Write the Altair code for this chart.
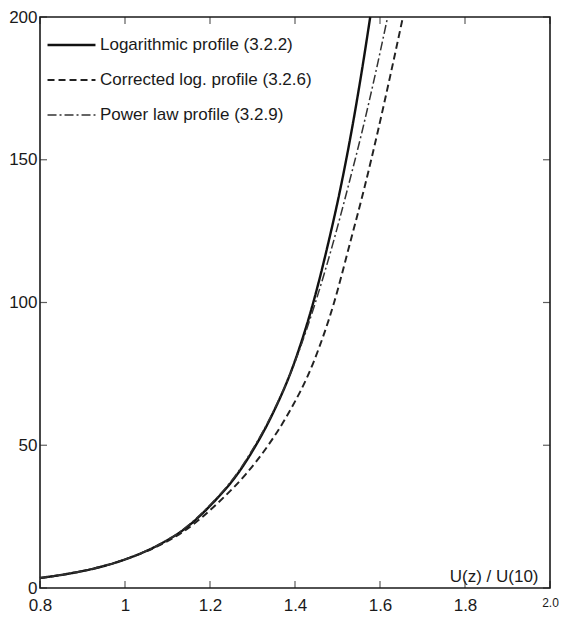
import altair as alt
import pandas as pd

# Heights z (m) and read-off U(z)/U(10) values
z_log = [3.5, 5, 7, 10, 15, 20, 30, 40, 50, 60, 80, 100, 120, 140, 160, 180, 200]
u_log = [0.800, 0.867, 0.932, 1.000, 1.078, 1.134, 1.208, 1.265, 1.308, 1.344, 1.401, 1.443, 1.477, 1.507, 1.533, 1.556, 1.577]

z_cor = [3.5, 5, 7, 10, 15, 20, 30, 40, 50, 60, 80, 100, 120, 140, 160, 180, 200]
u_cor = [0.800, 0.867, 0.932, 1.000, 1.082, 1.140, 1.220, 1.285, 1.337, 1.380, 1.446, 1.492, 1.528, 1.563, 1.595, 1.625, 1.654]

z_pow = [3.5, 5, 7, 10, 15, 20, 30, 40, 50, 60, 80, 100, 120, 140, 160, 180, 200]
u_pow = [0.800, 0.866, 0.931, 1.000, 1.077, 1.132, 1.206, 1.263, 1.306, 1.343, 1.402, 1.448, 1.488, 1.524, 1.558, 1.589, 1.618]

series_names = ["Logarithmic profile (3.2.2)", "Corrected log. profile (3.2.6)", "Power law profile (3.2.9)"]

x_ticks = [0.8, 1.0, 1.2, 1.4, 1.6, 1.8, 2.0]
y_ticks = [0, 50, 100, 150, 200]

rows = []
for name, zs, us in zip(series_names, [z_log, z_cor, z_pow], [u_log, u_cor, u_pow]):
    for z, u in zip(zs, us):
        rows.append({"series": name, "z": z, "u": u})
df = pd.DataFrame(rows)

FONT = "Liberation Sans"
INK = "#1a1a1a"

xscale = alt.Scale(domain=[0.8, 2.0], nice=False, zero=False)
yscale = alt.Scale(domain=[0, 200], nice=False)

legend = alt.Legend(title=None, orient="none", legendX=6, legendY=15,
                    symbolType="stroke", symbolSize=2300,
                    labelFont=FONT, labelFontSize=17, labelColor=INK, labelLimit=400,
                    labelOffset=3, clipHeight=26, rowPadding=9, padding=0)

lines = alt.Chart(df).mark_line(strokeCap="butt", interpolate="monotone").encode(
    x=alt.X("u:Q", scale=xscale,
            axis=alt.Axis(values=x_ticks, ticks=False, grid=False, domain=False,
                          labelExpr="datum.value == 2 ? '2.0' : format(datum.value, '~g')",
                          labelFontSize={"expr": "datum.value == 2 ? 12 : 17"},
                          labelFont=FONT, labelColor=INK, labelPadding=9,
                          labelFlush=False,
                          title="U(z) / U(10)", titleFont=FONT, titleFontSize=17,
                          titleFontWeight="normal", titleColor=INK,
                          titleAnchor="end", titleAlign="right", titleBaseline="alphabetic",
                          titleX=498, titleY=-7)),
    y=alt.Y("z:Q", scale=yscale,
            axis=alt.Axis(values=y_ticks, ticks=False, grid=False, domain=False,
                          labelFont=FONT, labelFontSize=17, labelColor=INK,
                          labelPadding=3, title=None, labelFlush=False)),
    order=alt.Order("z:Q"),
    strokeDash=alt.StrokeDash("series:N",
                              scale=alt.Scale(domain=series_names,
                                              range=[[1, 0], [7, 4], [9, 3, 2, 3]]),
                              legend=legend),
    strokeWidth=alt.StrokeWidth("series:N",
                                scale=alt.Scale(domain=series_names, range=[2.4, 1.5, 1.4]),
                                legend=legend),
    color=alt.Color("series:N",
                    scale=alt.Scale(domain=series_names, range=["#111111", "#222222", "#333333"]),
                    legend=legend),
)

xt = pd.DataFrame({"x": x_ticks})
yt = pd.DataFrame({"y": y_ticks})

tick_bottom = alt.Chart(xt).mark_tick(orient="vertical", size=7, yOffset=-3.5, color=INK, thickness=1.2).encode(
    x=alt.X("x:Q", scale=xscale), y=alt.datum(0, scale=yscale))
tick_top = alt.Chart(xt).mark_tick(orient="vertical", size=7, yOffset=3.5, color=INK, thickness=1.2).encode(
    x=alt.X("x:Q", scale=xscale), y=alt.datum(200, scale=yscale))
tick_left = alt.Chart(yt).mark_tick(orient="horizontal", size=7, xOffset=3.5, color=INK, thickness=1.2).encode(
    y=alt.Y("y:Q", scale=yscale), x=alt.datum(0.8, scale=xscale))
tick_right = alt.Chart(yt).mark_tick(orient="horizontal", size=7, xOffset=-3.5, color=INK, thickness=1.2).encode(
    y=alt.Y("y:Q", scale=yscale), x=alt.datum(2.0, scale=xscale))

chart = alt.layer(lines, tick_bottom, tick_top, tick_left, tick_right).properties(
    width=510, height=571,
    autosize=alt.AutoSizeParams(type="none"),
    padding={"left": 40, "top": 17, "right": 12, "bottom": 31},
    background="white",
).configure_view(stroke=INK, strokeWidth=1.6)

chart.save("out.html", embed_options={"renderer": "svg", "actions": False})
